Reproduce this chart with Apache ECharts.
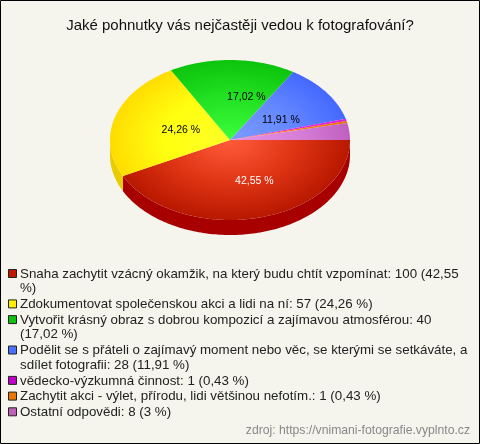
<!DOCTYPE html>
<html>
<head>
<meta charset="utf-8">
<style>
html, body { margin: 0; padding: 0; background: #f5f5ee; }
#chart { width: 480px; height: 444px; }
</style>
<script src="https://cdn.jsdelivr.net/npm/echarts@6/dist/echarts.min.js"></script>
</head>
<body>
<div id="chart"></div>
<script>
var titleText = 'Jaké pohnutky vás nejčastěji vedou k fotografování?'
var sourceText = 'zdroj: https://vnimani-fotografie.vyplnto.cz'

var names = [
    'Snaha zachytit vzácný okamžik, na který budu chtít vzpomínat',
    'Zdokumentovat společenskou akci a lidi na ní',
    'Vytvořit krásný obraz s dobrou kompozicí a zajímavou atmosférou',
    'Podělit se s přáteli o zajímavý moment nebo věc, se kterými se setkáváte, a sdílet fotografii',
    'vědecko-výzkumná činnost',
    'Zachytit akci - výlet, přírodu, lidi většinou nefotím.',
    'Ostatní odpovědi'
]
var values = [100, 57, 40, 28, 1, 1, 8]
var percents = ['42,55', '24,26', '17,02', '11,91', '0,43', '0,43', '3']

// legend lines, broken where the original breaks them
var legendLines = [
    ['Snaha zachytit vzácný okamžik, na který budu chtít vzpomínat: 100 (42,55', '%)'],
    ['Zdokumentovat společenskou akci a lidi na ní: 57 (24,26 %)'],
    ['Vytvořit krásný obraz s dobrou kompozicí a zajímavou atmosférou: 40', '(17,02 %)'],
    ['Podělit se s přáteli o zajímavý moment nebo věc, se kterými se setkáváte, a', 'sdílet fotografii: 28 (11,91 %)'],
    ['vědecko-výzkumná činnost: 1 (0,43 %)'],
    ['Zachytit akci - výlet, přírodu, lidi většinou nefotím.: 1 (0,43 %)'],
    ['Ostatní odpovědi: 8 (3 %)']
]

var centerColors = ['#ff5c3c', '#ffff28', '#3cff3c', '#7c9cff', '#e838e8', '#ff9010', '#e690e6']
var middleColors = ['#de3414', '#ffff10', '#22e022', '#6488ff', '#e028e0', '#f88008', '#d880d8']
var edgeColors = ['#b81800', '#ffdc00', '#0cc40c', '#4468ff', '#d820d8', '#e87000', '#c060c0']
var sideColors = ['#a80000', '#e8cc00', '#08a008', '#3050d0', '#b010b0', '#c06000', '#a050a0']
var legendColors = ['#c01800', '#ffee00', '#10c010', '#4a70ff', '#c000c8', '#e87800', '#c060b8']
var labelColors = ['#fff', '#000', '#000', '#000']
// the original labels sit a bit off the slice middle
var labelShift = [[9, -2], [14, 3], [15, 1], [-2, 6]]

var cx = 230
var cy = 140
var rx = 120
var ry = 80
var depth = 15

var total = values.reduce(function(a, b) { return a + b }, 0)

var angleOf = function(sum) {
    return sum / total * Math.PI * 2
}

var arcPoints = function(a0, a1, radiusY, dy) {
    var list = []
    var steps = Math.max(2, Math.ceil((a1 - a0) / 0.02))
    for (var i = 0; i <= steps; i++) {
        var a = a0 + (a1 - a0) * i / steps
        list.push([cx + rx * Math.cos(a), cy + dy + radiusY * Math.sin(a)])
    }
    return list
}

var renderSlice = function(params, api) {
    var i = params.dataIndex
    var before = values.slice(0, i).reduce(function(a, b) { return a + b }, 0)
    var a0 = angleOf(before)
    var a1 = angleOf(before + values[i])
    var children = []
    // side wall only where the slice faces the viewer
    var s0 = Math.max(a0, 0)
    var s1 = Math.min(a1, Math.PI)
    if (s1 > s0) {
        children.push({
            type: 'polygon',
            shape: { points: arcPoints(s0, s1, ry, 0).concat(arcPoints(s0, s1, ry, depth).reverse()) },
            style: { fill: sideColors[i] }
        })
    }
    // top face drawn as a circle and squashed, so the gradient turns elliptical too
    children.push({
        type: 'polygon',
        shape: { points: [[cx, cy]].concat(arcPoints(a0, a1, rx, 0)) },
        originX: cx,
        originY: cy,
        scaleY: ry / rx,
        style: {
            fill: new echarts.graphic.RadialGradient(cx, cy, rx, [
                { offset: 0, color: centerColors[i] },
                { offset: 0.55, color: middleColors[i] },
                { offset: 1, color: edgeColors[i] }
            ], true)
        }
    })
    if (i < 4) {
        var mid = (a0 + a1) / 2
        children.push({
            type: 'text',
            style: {
                x: cx + rx * 0.55 * Math.cos(mid) + labelShift[i][0],
                y: cy + ry * 0.55 * Math.sin(mid) + labelShift[i][1],
                text: percents[i] + ' %',
                fill: labelColors[i],
                font: '10.5px "Liberation Sans", Arial, sans-serif',
                align: 'center',
                verticalAlign: 'middle'
            }
        })
    }
    return { type: 'group', children: children }
}

var legendGraphic = function() {
    var list = []
    var y = 274
    legendLines.forEach(function(lines, i) {
        list.push({
            type: 'rect',
            shape: { x: 8.5, y: y - 4.5, width: 8, height: 8 },
            style: { fill: legendColors[i], stroke: '#222', lineWidth: 1 }
        })
        lines.forEach(function(line, k) {
            list.push({
                type: 'text',
                style: {
                    x: 20,
                    y: y + k * 14.7,
                    text: line,
                    fill: '#222',
                    font: '13.33px "Liberation Sans", Arial, sans-serif',
                    verticalAlign: 'middle'
                }
            })
        })
        y += lines.length * 14.7 + 1
    })
    return list
}

var option = {
    backgroundColor: '#f5f5ee',
    animation: false,
    title: {
        text: titleText,
        left: 'center',
        top: 13,
        textStyle: {
            color: '#111',
            fontSize: 15,
            fontWeight: 'normal',
            fontFamily: '"Liberation Sans", Arial, sans-serif'
        }
    },
    graphic: legendGraphic().concat([{
        type: 'text',
        style: {
            x: 470,
            y: 431,
            text: sourceText,
            fill: '#888',
            font: '12.2px "Liberation Sans", Arial, sans-serif',
            align: 'right',
            verticalAlign: 'middle'
        }
    }, {
        type: 'rect',
        shape: { x: 0.5, y: 0.5, width: 479, height: 443 },
        style: { fill: 'none', stroke: '#000', lineWidth: 1 }
    }]),
    series: [{
        type: 'custom',
        coordinateSystem: 'none',
        renderItem: renderSlice,
        data: values.map(function(v, i) { return { name: names[i], value: v } })
    }]
}
echarts.init(document.getElementById('chart')).setOption(option)
</script>
</body>
</html>
